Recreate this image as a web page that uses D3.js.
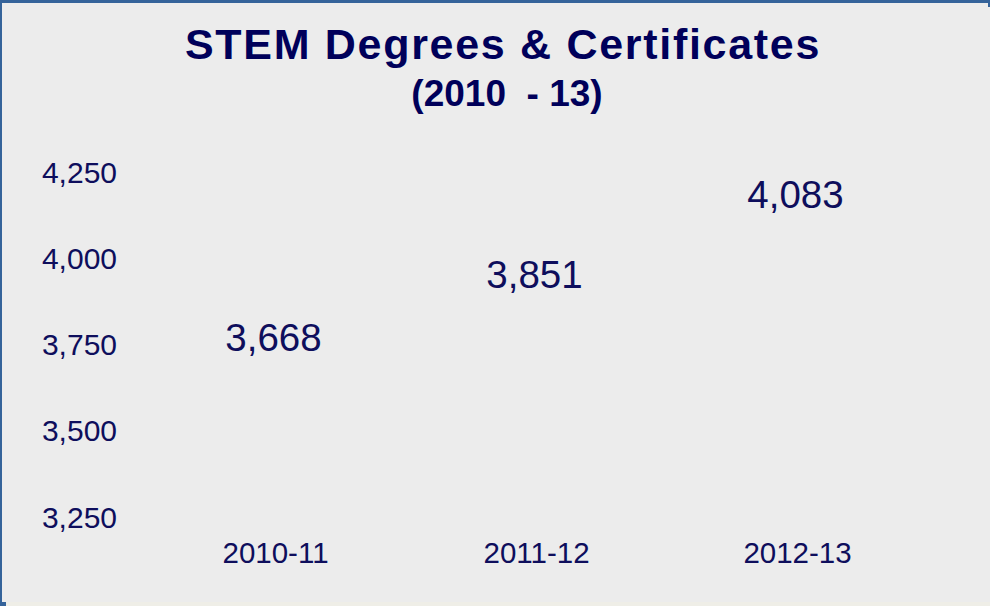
<!DOCTYPE html>
<html lang="en">

<head>
    <meta charset="UTF-8">
    <title>STEM Degrees &amp; Certificates</title>
    <script src="https://d3js.org/d3.v7.min.js"></script>
    <style>
        body {
            margin: 0;
            background: #ececec;
        }

        svg {
            display: block;
            font-family: "Liberation Sans", Arial, sans-serif;
        }
    </style>
</head>

<body>
    <script>
        // chart data
        const years = ['2010-11', '2011-12', '2012-13'];
        const awards = [3668, 3851, 4083];
        const yTicks = [3250, 3500, 3750, 4000, 4250];
        const titleLines = ['STEM Degrees & Certificates', '(2010  - 13)'];

        const width = 990;
        const height = 606;
        const ink = '#0e0e5c';

        const svg = d3.select('body')
            .append('svg')
            .attr('width', width)
            .attr('height', height);

        // panel background + frame
        svg.append('rect')
            .attr('width', width)
            .attr('height', height)
            .attr('fill', '#ececec');
        svg.append('rect')
            .attr('x', 0).attr('y', 602)
            .attr('width', width).attr('height', 4)
            .attr('fill', '#efeee7');
        svg.append('rect')
            .attr('width', width).attr('height', 3)
            .attr('fill', '#35639a');
        svg.append('rect')
            .attr('width', 2).attr('height', 606)
            .attr('fill', '#35639a');
        svg.append('rect')
            .attr('y', 602).attr('width', 6).attr('height', 4)
            .attr('fill', '#35639a');
        svg.append('rect')
            .attr('x', 988).attr('width', 2).attr('height', 7)
            .attr('fill', '#35639a');

        // title
        svg.append('text')
            .attr('x', 503)
            .attr('y', 59)
            .attr('text-anchor', 'middle')
            .style('font-size', '43px')
            .style('font-weight', 'bold')
            .style('letter-spacing', '1.7px')
            .attr('fill', '#00005a')
            .text(titleLines[0]);
        svg.append('text')
            .attr('x', 507)
            .attr('y', 106)
            .attr('text-anchor', 'middle')
            .style('font-size', '37px')
            .style('font-weight', 'bold')
            .style('white-space', 'pre')
            .attr('fill', '#00005a')
            .text(titleLines[1]);

        // scales
        const x = d3.scaleBand()
            .domain(years)
            .range([143, 926]);

        const y = d3.scaleLinear()
            .domain([3250, 4250])
            .range([517.5, 172.5]);

        // y axis (labels only)
        const yAxis = svg.append('g')
            .attr('transform', 'translate(117,0)')
            .call(d3.axisLeft(y)
                .tickValues(yTicks)
                .tickSize(0)
                .tickPadding(0)
                .tickFormat(d3.format(',')));
        yAxis.select('.domain').remove();
        yAxis.selectAll('text')
            .attr('fill', ink)
            .style('font-size', '30px')
            .style('font-family', '"Liberation Sans", Arial, sans-serif');

        // x axis (labels only)
        const xAxis = svg.append('g')
            .attr('transform', 'translate(2,542)')
            .call(d3.axisBottom(x).tickSize(0).tickPadding(0));
        xAxis.select('.domain').remove();
        xAxis.selectAll('text')
            .attr('fill', ink)
            .style('font-size', '29.5px')
            .style('font-family', '"Liberation Sans", Arial, sans-serif');

        // bars are drawn in the panel colour, so only the value labels show
        svg.append('g')
            .selectAll('rect')
            .data(awards)
            .join('rect')
            .attr('x', (d, i) => x(years[i]) + x.bandwidth() * 0.2)
            .attr('y', d => y(d))
            .attr('width', x.bandwidth() * 0.6)
            .attr('height', d => y.range()[0] - y(d))
            .attr('fill', 'none');

        svg.append('g')
            .selectAll('text')
            .data(awards)
            .join('text')
            .attr('x', (d, i) => x(years[i]) + x.bandwidth() / 2)
            .attr('y', d => y(d) - 22)
            .attr('text-anchor', 'middle')
            .attr('fill', ink)
            .style('font-size', '38.5px')
            .text(d => d3.format(',')(d));
    </script>
</body>

</html>
